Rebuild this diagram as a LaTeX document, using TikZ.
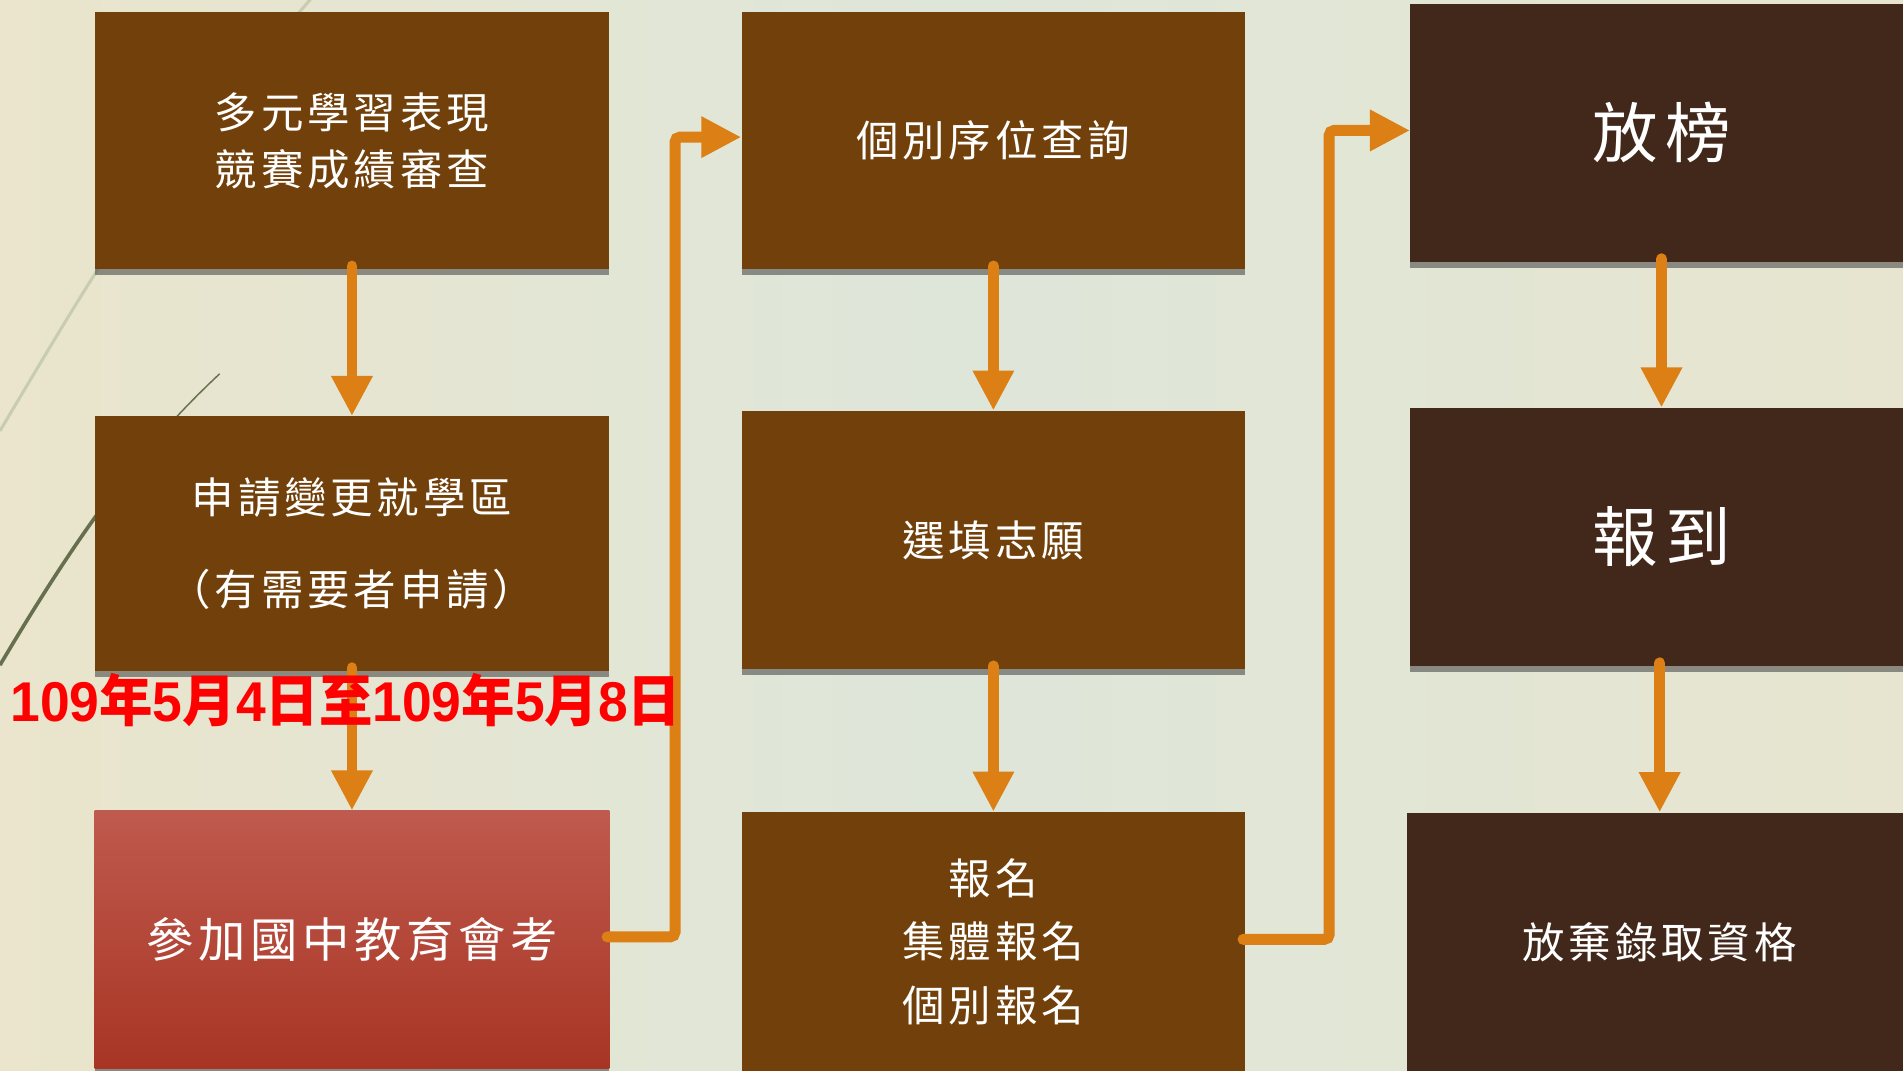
\documentclass[tikz,border=0pt]{standalone}
\usepackage{fontspec}
\usetikzlibrary{arrows.meta,shadows,calc}
\newfontfamily\kai[LetterSpace=9]{Noto Sans CJK TC}
\newfontfamily\kaibig[LetterSpace=10]{Noto Sans CJK TC}
\newfontfamily\kaihuge[LetterSpace=12]{Noto Sans CJK TC}
\newfontfamily\cjkb{Noto Sans CJK TC}
\newfontfamily\arialf{Liberation Sans}
\newcommand\Dg[1]{{\arialf\bfseries #1}}
\definecolor{bgL}{RGB}{234,229,204}
\definecolor{bgM}{RGB}{222,230,218}
\definecolor{bgR}{RGB}{231,229,207}
\definecolor{brownbox}{RGB}{114,65,11}
\definecolor{darkbox}{RGB}{66,40,26}
\definecolor{redtop}{RGB}{191,90,78}
\definecolor{redbot}{RGB}{168,53,36}
\definecolor{arrorange}{RGB}{220,127,20}
\definecolor{stemlight}{RGB}{200,204,176}
\definecolor{stemdark}{RGB}{102,112,79}
\definecolor{datered}{RGB}{255,0,0}
\tikzset{
  box/.style={rectangle, inner sep=0pt, text=white, align=center,
    drop shadow={shadow xshift=0pt, shadow yshift=-5pt, fill=black!70, opacity=0.6}},
  brownb/.style={box, fill=brownbox},
  darkb/.style={box, fill=darkbox},
  redb/.style={box, top color=redtop, bottom color=redbot},
  txt/.style={font=\kai\fontsize{35}{47}\selectfont},
  txtbig/.style={font=\kaibig\fontsize{39}{47}\selectfont},
  txthuge/.style={font=\kaihuge\fontsize{54}{60}\selectfont},
  arr/.style={draw=arrorange, line width=9pt, line cap=round,
    -{Triangle[width=32pt,length=33pt]}},
  elbow/.style={arr, rounded corners=4pt},
  datelabel/.style={text=datered, font=\cjkb\bfseries\fontsize{44}{44}\selectfont, inner sep=0pt, yscale=1.05}
}
\begin{document}
\begin{tikzpicture}[x=1pt,y=1pt]
\useasboundingbox (0,0) rectangle (1568,882);
% background
\shade[left color=bgL, right color=bgR, middle color=bgM] (0,0) rectangle (1568,882);
% decorative stems
\draw[stemlight, line width=2.5pt] (0,527) .. controls (110,712) .. (257,884);
\draw[stemdark, line width=1.2pt] (0,334) .. controls (70,452) and (120,517) .. (181,574);
\begin{scope}
\clip (0,0) rectangle (100,882);
\draw[stemdark, line width=3pt] (0,334) .. controls (70,452) and (120,517) .. (181,574);
\end{scope}
% boxes column 1
\node[brownb, minimum width=424pt, minimum height=212pt, txt] (n1) at (290,766)
  {多元學習表現\\競賽成績審查};
\node[brownb, minimum width=424pt, minimum height=210pt, txt] (n2) at (290,434)
  {申請變更就學區\\[29pt]（有需要者申請）};
\node[redb, minimum width=424pt, minimum height=212pt, txtbig] (n3) at (290,108)
  {參加國中教育會考};
% column 2
\node[brownb, minimum width=415pt, minimum height=212pt, txt] (m1) at (818.5,766)
  {個別序位查詢};
\node[brownb, minimum width=415pt, minimum height=213pt, txt] (m2) at (818.5,437)
  {選填志願};
\node[brownb, minimum width=415pt, minimum height=214pt, font=\kai\fontsize{35}{52.5}\selectfont] (m3) at (818.5,106)
  {報名\\集體報名\\個別報名};
% column 3
\node[darkb, minimum width=414pt, minimum height=213pt, txthuge] (r1) at (1369,772.5)
  {放榜};
\node[darkb, minimum width=414pt, minimum height=213pt, txthuge] (r2) at (1369,439.5)
  {報到};
\node[darkb, minimum width=417pt, minimum height=213pt, txt] (r3) at (1367.5,106)
  {放棄錄取資格};
% vertical arrows
\draw[arr] ([yshift=3pt]n1.south) -- (n2.north);
\draw[arr] ([yshift=3pt]n2.south) -- (n3.north);
\draw[arr] ([yshift=3pt]m1.south) -- (m2.north);
\draw[arr] ([yshift=3pt]m2.south) -- (m3.north);
\draw[arr] ([yshift=3pt]r1.south) -- (r2.north);
\draw[arr] ([yshift=3pt]r3.north |- r2.south) -- (r3.north);
% elbow connectors
\draw[elbow] ([xshift=-2pt,yshift=2pt]n3.east) -- ++(56,0) |- ([yshift=3pt]m1.west);
\draw[elbow] ([xshift=-2pt,yshift=2pt]m3.east) -- ++(71,0) |- ([yshift=2pt]r1.west);
% date label
\node[datelabel] (date) at (285,305)
  {\Dg{109}年\Dg{5}月\Dg{4}日至\Dg{109}年\Dg{5}月\Dg{8}日};
\end{tikzpicture}
\end{document}
